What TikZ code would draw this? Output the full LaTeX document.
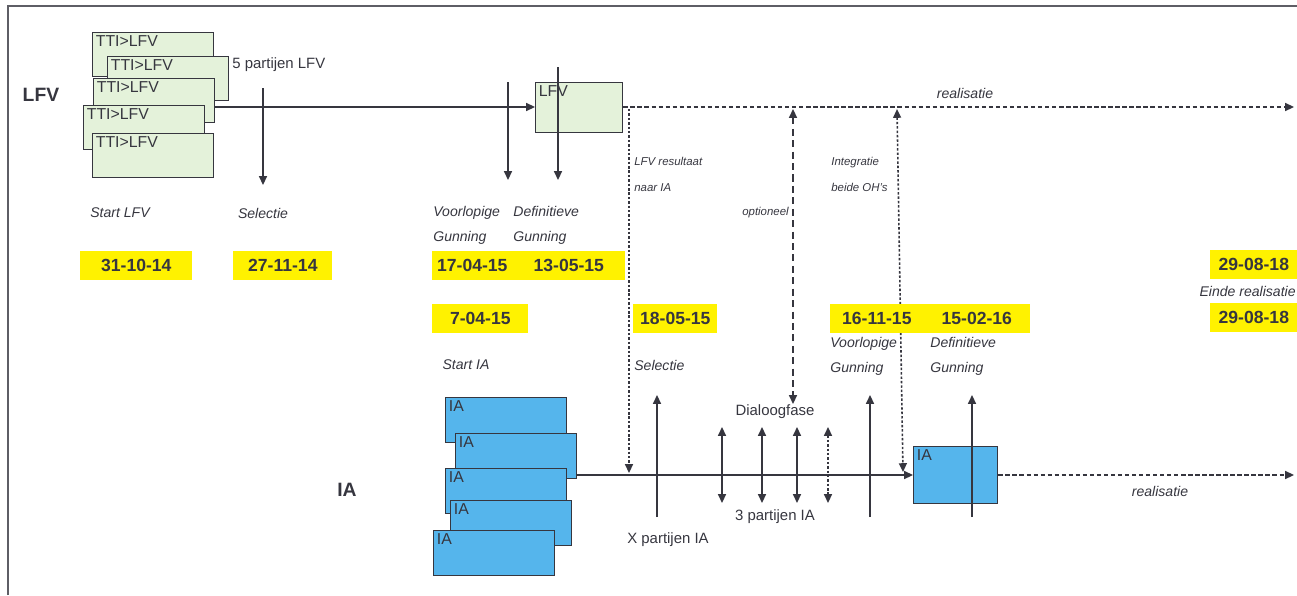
\documentclass[tikz,border=0pt]{standalone}
\usepackage{fontspec}
\setmainfont{Liberation Sans}
\usetikzlibrary{arrows.meta}
\definecolor{lfvgreen}{HTML}{E4F2DA}
\definecolor{iablue}{HTML}{55B5EC}
\definecolor{hl}{HTML}{FFF200}
\definecolor{ink}{HTML}{36363F}
\begin{document}
\begin{tikzpicture}[x=0.02cm, y=-0.02cm,
  >={Triangle[length=5pt,width=4.5pt]},
  every node/.style={text=ink},
  lfvbox/.style={draw=ink, fill=lfvgreen, line width=0.8pt, minimum width=2.42cm,
    minimum height=0.88cm, anchor=north west, inner sep=0pt},
  iabox/.style={lfvbox, fill=iablue},
  boxtxt/.style={anchor=north west, inner sep=2pt, font=\fontsize{9}{10}\selectfont},
  datum/.style={fill=hl, font=\fontsize{10}{12}\selectfont\bfseries, minimum height=0.58cm,
    inner sep=0pt, anchor=west},
  lab/.style={font=\fontsize{8}{14}\selectfont\itshape, align=left, inner sep=0pt},
  note/.style={font=\fontsize{6.5}{15}\selectfont\itshape, align=left, inner sep=0pt},
  plain/.style={font=\fontsize{8.5}{10}\selectfont, inner sep=0pt},
  flow/.style={draw=ink, line width=0.9pt},
  realis/.style={draw=ink, line width=0.9pt, dash pattern=on 2.5pt off 1.5pt},
  fijn/.style={draw=ink, line width=0.9pt, dash pattern=on 1.4pt off 1.1pt},
  grof/.style={draw=ink, line width=0.9pt, dash pattern=on 4pt off 2.5pt}]
  \useasboundingbox (0,0) rectangle (1297,595);
  \draw[ink!80, line width=1pt] (8,595) -- (8,6) -- (1297,6);

  % lanes
  \node[font=\fontsize{11}{12}\selectfont\bfseries] (lfv) at (41,95) {LFV};
  \node[font=\fontsize{11}{12}\selectfont\bfseries] (ia) at (347,490) {IA};

  % LFV stack
  \foreach \n/\x/\y in {1/92/32, 2/107/56, 3/93/78, 4/83/105, 5/92/133}
    \node[lfvbox, label={[boxtxt]north west:TTI>LFV}] (t\n) at (\x,\y) {};
  \node[plain, anchor=west] (vijf) at (232,65) {5 partijen LFV};

  % LFV result box
  \node[lfvbox, minimum width=1.74cm, minimum height=1cm,
    label={[boxtxt]north west:LFV}] (lfvres) at (535,82) {};
  \coordinate (lfvL) at (215,107);
  \draw[flow, ->] (lfvL) -- (lfvL -| lfvres.west);
  \coordinate (lfvE) at (1294,107);
  \draw[realis, ->] (lfvE -| lfvres.east) -- (lfvE);
  \node[lab] (real1) at (965,93) {realisatie};

  % IA stack
  \foreach \n/\x/\y in {1/445/397, 2/455/433, 3/445/468, 4/450/500, 5/433/530}
    \node[iabox, minimum height=0.9cm, label={[boxtxt]north west:IA}] (a\n) at (\x,\y) {};
  \node[iabox, minimum width=1.68cm, minimum height=1.14cm,
    label={[boxtxt]north west:IA}] (iares) at (913,446) {};
  \coordinate (iaL) at (577,475);
  \draw[flow, ->] (iaL) -- (iaL -| iares.west);
  \coordinate (iaE) at (1294,475);
  \draw[realis, ->] (iaE -| iares.east) -- (iaE);
  \node[lab] (real2) at (1160,491) {realisatie};

  % milestones LFV
  \coordinate (s1) at (263,88);  \coordinate (s2) at (263,185);
  \coordinate (v1) at (508,82);  \coordinate (v2) at (508,180);
  \coordinate (g1) at (558,67);  \coordinate (g2) at (558,180);
  \draw[flow, ->] (s1) -- (s2);
  \draw[flow, ->] (v1) -- (v2);
  \draw[flow, ->] (g1) -- (g2);
  \node[lab] (startlfv) at (120,213) {Start LFV};
  \node[lab] (sellfv) at (263,213) {Selectie};
  \node[lab, anchor=north west] (vglfv) at (433,206) {Voorlopige\\Gunning};
  \node[lab, anchor=north west] (dglfv) at (513,206) {Definitieve\\Gunning};

  % links between lanes
  \coordinate (r1) at (629,109); \coordinate (r2) at (629,473);
  \draw[fijn, ->] (r1) -- (r2);
  \node[note, anchor=north west] (resnaar) at (634,157) {LFV resultaat\\naar IA};
  \coordinate (o1) at (793,109); \coordinate (o2) at (793,404);
  \draw[grof, <->] (o1) -- (o2);
  \node[note, anchor=east] (opt) at (789,213) {optioneel};
  \coordinate (i1) at (897,109); \coordinate (i2) at (903,472);
  \draw[fijn, <->] (i1) -- (i2);
  \node[note, anchor=north west] (integr) at (831,157) {Integratie\\beide OH's};

  % dates
  \foreach \t/\x/\y/\w in {31-10-14/80/265/112, 27-11-14/233/265/99,
      17-04-15/432/265/80, 13-05-15/512/265/113, 7-04-15/432/318/96,
      18-05-15/633/318/84, 16-11-15/830/318/93, 15-02-16/923/318/107,
      29-08-18/1210/264/87, 29-08-18/1210/317/87}
    \node[datum, minimum width={\w*0.02cm}] (d\x-\y) at (\x,\y) {\t};
  \node[lab, anchor=east] (einde) at (1296,291) {Einde realisatie};

  % milestones IA
  \node[lab] (startia) at (466,365) {Start IA};
  \node[lab, anchor=west] (selia) at (634,365) {Selectie};
  \node[lab, anchor=north west] (vgia) at (830,337) {Voorlopige\\Gunning};
  \node[lab, anchor=north west] (dgia) at (930,337) {Definitieve\\Gunning};
  \coordinate (x1) at (657,517); \coordinate (x2) at (657,395);
  \draw[flow, ->] (x1) -- (x2);
  \node[plain] (xpart) at (668,540) {X partijen IA};
  \foreach \x in {722, 762, 797}
    \draw[flow, <->] (\x,427) coordinate (p\x) -- (\x,503);
  \draw[fijn, <->] (828,427) coordinate (q) -- (828,503);
  \node[plain] (dialoog) at (775,412) {Dialoogfase};
  \node[plain] (drie) at (775,517) {3 partijen IA};
  \coordinate (w1) at (870,517); \coordinate (w2) at (870,395);
  \draw[flow, ->] (w1) -- (w2);
  \coordinate (h1) at (972,517); \coordinate (h2) at (972,395);
  \draw[flow, ->] (h1) -- (h2);
\end{tikzpicture}
\end{document}
